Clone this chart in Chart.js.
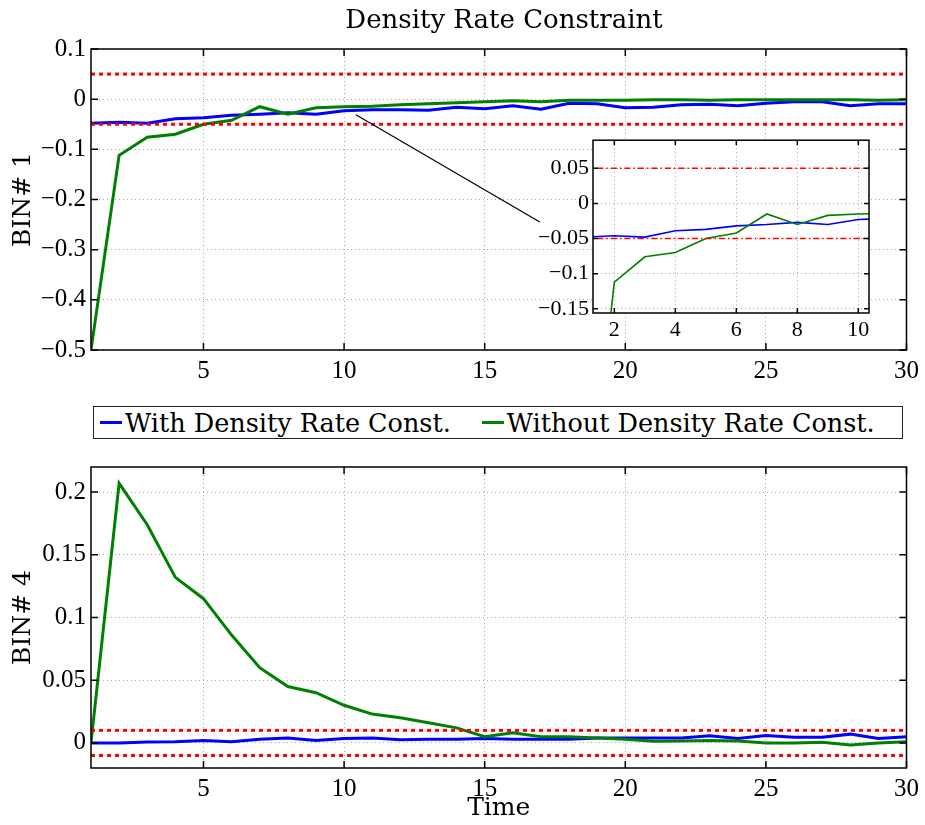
<!DOCTYPE html>
<html>
<head>
<meta charset="utf-8">
<script src="https://cdn.jsdelivr.net/npm/chart.js@4.4.0/dist/chart.umd.min.js"></script>
<style>
  body { margin: 0; background: #fff; }
  #wrap { position: relative; width: 925px; height: 825px; overflow: hidden; }
  #wrap canvas { position: absolute; }
  #title {
    position: absolute; left: 96px; top: 4px; width: 816px; text-align: center;
    font: 26px "DejaVu Serif", serif; color: #000;
  }
  #legend {
    position: absolute; left: 93px; top: 406px; width: 808px; height: 31px;
    border: 1.5px solid #222; background: #fff;
    display: flex; align-items: center;
    font: 25.5px "DejaVu Serif", serif; color: #000; white-space: nowrap;
  }
  #legend .item { display: flex; align-items: center; }
  #legend .item i { display: inline-block; width: 22px; height: 3px; margin-right: 3px; }
</style>
</head>
<body>
<div id="wrap">
  <canvas id="bin1Chart" width="925" height="395" style="left:0;top:0"></canvas>
  <canvas id="bin4Chart" width="925" height="385" style="left:0;top:440px"></canvas>
  <canvas id="zoomChart" width="345" height="225" style="left:530px;top:123px"></canvas>
  <div id="title">Density Rate Constraint</div>
  <div id="legend"></div>
</div>
<script>
// values
const timeSteps = [1, 2, 3, 4, 5, 6, 7, 8, 9, 10, 11, 12, 13, 14, 15,
                   16, 17, 18, 19, 20, 21, 22, 23, 24, 25, 26, 27, 28, 29, 30];

const bin1With = [-0.048, -0.046, -0.048, -0.039, -0.037, -0.032, -0.030, -0.027, -0.030, -0.023,
                  -0.021, -0.021, -0.022, -0.016, -0.019, -0.013, -0.020, -0.008, -0.009, -0.017,
                  -0.016, -0.011, -0.010, -0.013, -0.008, -0.005, -0.005, -0.013, -0.009, -0.009];
const bin1Without = [-0.5, -0.112, -0.076, -0.070, -0.050, -0.042, -0.015, -0.030, -0.017, -0.015,
                     -0.014, -0.011, -0.009, -0.007, -0.005, -0.003, -0.005, -0.002, -0.002, -0.002,
                     -0.001, -0.001, -0.002, -0.001, -0.001, -0.001, -0.001, -0.001, -0.002, -0.001];

const bin4With = [0, 0, 0.0008, 0.001, 0.002, 0.001, 0.003, 0.004, 0.002, 0.0036,
                  0.004, 0.0025, 0.003, 0.003, 0.0035, 0.003, 0.003, 0.003, 0.004, 0.004,
                  0.004, 0.004, 0.0058, 0.0035, 0.006, 0.0045, 0.0045, 0.007, 0.0035, 0.005];
const bin4Without = [0, 0.207, 0.174, 0.132, 0.115, 0.086, 0.060, 0.045, 0.040, 0.030,
                     0.023, 0.020, 0.016, 0.012, 0.005, 0.008, 0.005, 0.005, 0.004, 0.003,
                     0.0013, 0.0016, 0.002, 0.0016, 0, 0, 0.0005, -0.0016, 0, 0.001];

const bin1Limits = [0.05, -0.05];
const bin4Limits = [0.01, -0.01];

const seriesNames = ['With Density Rate Const.', 'Without Density Rate Const.'];
const seriesColors = ['#0000ff', '#008000'];
const limitColor = '#ff0000';

const xRange = [1, 30];
const bin1Range = [-0.5, 0.1];
const bin4Range = [-0.02, 0.22];
const zoomXRange = [1.3, 10.35];
const zoomYRange = [-0.156, 0.09];

const xTicks = [5, 10, 15, 20, 25, 30];
const bin1YTicks = [0.1, 0, -0.1, -0.2, -0.3, -0.4, -0.5];
const bin4YTicks = [0.2, 0.15, 0.1, 0.05, 0];
const zoomXTicks = [2, 4, 6, 8, 10];
const zoomYTicks = [0.05, 0, -0.05, -0.1, -0.15];

// pointer from the top plot to the zoomed inset (data units of the top plot)
const zoomPointer = [[10.42, -0.031], [16.96, -0.245]];

Chart.defaults.color = '#000';
const numFont = { family: '"Liberation Serif", "Times New Roman", serif', size: 25 };
const textFont = { family: '"DejaVu Serif", serif', size: 25 };

function fmt(v) {
  if (v === 0) return '0';
  return (v < 0 ? '\u2212' : '') + String(Math.abs(v));
}

function points(ys) {
  return timeSteps.map((t, i) => ({ x: t, y: ys[i] }));
}

function seriesSets(withVals, withoutVals, width) {
  return [
    { label: seriesNames[0], data: points(withVals), borderColor: seriesColors[0],
      backgroundColor: seriesColors[0], borderWidth: width, order: 2 },
    { label: seriesNames[1], data: points(withoutVals), borderColor: seriesColors[1],
      backgroundColor: seriesColors[1], borderWidth: width, order: 1 }
  ];
}

function limitSets(limits, width, dash) {
  const t0 = timeSteps[0], t1 = timeSteps[timeSteps.length - 1];
  return limits.map(v => ({
    label: 'limit', data: [{ x: t0, y: v }, { x: t1, y: v }],
    borderColor: limitColor, borderWidth: width, borderDash: dash, order: 0
  }));
}

// box round the plot area, inward tick marks, optional white fill
const framePlugin = {
  id: 'frame',
  beforeDraw(chart, args, opts) {
    if (!opts.fill) return;
    const { ctx, chartArea: a } = chart;
    ctx.save();
    ctx.fillStyle = opts.fill;
    ctx.fillRect(a.left, a.top, a.width, a.height);
    ctx.restore();
  },
  afterDatasetsDraw(chart, args, opts) {
    const { ctx, chartArea: a, scales } = chart;
    ctx.save();
    if (opts.pointer) {
      const p0 = opts.pointer[0], p1 = opts.pointer[1];
      ctx.strokeStyle = '#000';
      ctx.lineWidth = 1.2;
      ctx.beginPath();
      ctx.moveTo(scales.x.getPixelForValue(p0[0]), scales.y.getPixelForValue(p0[1]));
      ctx.lineTo(scales.x.getPixelForValue(p1[0]), scales.y.getPixelForValue(p1[1]));
      ctx.stroke();
    }
    ctx.strokeStyle = '#000';
    ctx.lineWidth = opts.width;
    ctx.beginPath();
    scales.x.ticks.forEach(t => {
      const px = scales.x.getPixelForValue(t.value);
      ctx.moveTo(px, a.bottom); ctx.lineTo(px, a.bottom - opts.tick);
      ctx.moveTo(px, a.top); ctx.lineTo(px, a.top + opts.tick);
    });
    scales.y.ticks.forEach(t => {
      const py = scales.y.getPixelForValue(t.value);
      ctx.moveTo(a.left, py); ctx.lineTo(a.left + opts.tick, py);
      ctx.moveTo(a.right, py); ctx.lineTo(a.right - opts.tick, py);
    });
    ctx.stroke();
    ctx.strokeRect(a.left, a.top, a.width, a.height);
    ctx.restore();
  }
};

function axis(range, ticks, fitSize, isX, font, pad, title) {
  const s = {
    type: 'linear', min: range[0], max: range[1],
    afterBuildTicks: sc => { sc.ticks = ticks.map(v => ({ value: v })); },
    afterFit: sc => { if (isX) sc.height = fitSize; else sc.width = fitSize; },
    grid: { color: '#a8a8a8', lineWidth: 1, drawTicks: false },
    border: { display: false, dash: [1, 3] },
    ticks: { font: font, padding: pad, autoSkip: false, maxRotation: 0, callback: v => fmt(v) }
  };
  if (title) s.title = title;
  return s;
}

function makeChart(id, datasets, scales, padding, frameOpts) {
  return new Chart(document.getElementById(id), {
    type: 'line',
    data: { datasets: datasets },
    options: {
      responsive: false,
      animation: false,
      devicePixelRatio: 1,
      layout: { padding: padding },
      elements: { point: { radius: 0 }, line: { tension: 0 } },
      datasets: { line: { clip: 0 } },
      scales: scales,
      plugins: {
        legend: { display: false },
        tooltip: { enabled: false },
        frame: frameOpts
      }
    },
    plugins: [framePlugin]
  });
}

// top plot: BIN# 1
makeChart('bin1Chart',
  limitSets(bin1Limits, 3, [4, 4]).concat(seriesSets(bin1With, bin1Without, 3)),
  {
    x: axis(xRange, xTicks, 45, true, numFont, 6),
    y: axis(bin1Range, bin1YTicks, 91, false, numFont, 5,
      { display: true, text: 'BIN# 1', font: textFont, padding: { top: 8, bottom: 0 } })
  },
  { top: 49, right: 18, bottom: 0, left: 0 },
  { width: 1.5, tick: 7, pointer: zoomPointer }
);

// bottom plot: BIN# 4
makeChart('bin4Chart',
  limitSets(bin4Limits, 3, [4, 4]).concat(seriesSets(bin4With, bin4Without, 3)),
  {
    x: axis(xRange, xTicks, 57, true, numFont, 6,
      { display: true, text: 'Time', font: textFont, padding: { top: 0, bottom: 2 } }),
    y: axis(bin4Range, bin4YTicks, 91, false, numFont, 5,
      { display: true, text: 'BIN# 4', font: textFont, padding: { top: 8, bottom: 0 } })
  },
  { top: 27, right: 18, bottom: 0, left: 0 },
  { width: 1.5, tick: 7 }
);

// zoomed inset of the top plot
const zoomFont = { family: numFont.family, size: 22 };
makeChart('zoomChart',
  limitSets(bin1Limits, 1.5, [6, 3, 1.5, 3]).concat(seriesSets(bin1With, bin1Without, 1.6)),
  {
    x: axis(zoomXRange, zoomXTicks, 35, true, zoomFont, 4),
    y: axis(zoomYRange, zoomYTicks, 63, false, zoomFont, 4)
  },
  { top: 16, right: 6, bottom: 0, left: 0 },
  { width: 1.5, tick: 5, fill: '#fff' }
);

// legend shared by both plots
const legend = document.getElementById('legend');
seriesNames.forEach((name, i) => {
  const item = document.createElement('span');
  item.className = 'item';
  item.style.marginLeft = i === 0 ? '6px' : '31px';
  const swatch = document.createElement('i');
  swatch.style.background = seriesColors[i];
  item.appendChild(swatch);
  item.appendChild(document.createTextNode(name));
  legend.appendChild(item);
});
</script>
</body>
</html>
